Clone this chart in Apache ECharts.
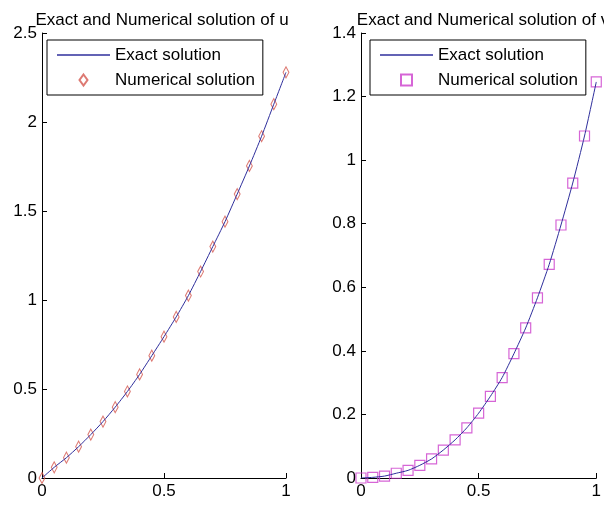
<!DOCTYPE html>
<html>
<head>
<meta charset="utf-8">
<script src="https://cdn.jsdelivr.net/npm/echarts@6/dist/echarts.min.js"></script>
<style>
  html, body { margin: 0; padding: 0; background: #fff; }
  #main { width: 604px; height: 507px; }
</style>
</head>
<body>
<div id="main"></div>
<script>
// x grid of the scheme
var xs = [0, 0.05, 0.1, 0.15, 0.2, 0.25, 0.3, 0.35, 0.4, 0.45, 0.5,
          0.55, 0.6, 0.65, 0.7, 0.75, 0.8, 0.85, 0.9, 0.95, 1]
// u (left)
var uExact = [0, 0.06, 0.114, 0.176, 0.244, 0.317, 0.398, 0.486, 0.582, 0.687, 0.794,
              0.905, 1.025, 1.16, 1.30, 1.44, 1.595, 1.753, 1.92, 2.10, 2.279]
var uNum = [0, 0.06, 0.114, 0.176, 0.244, 0.317, 0.398, 0.486, 0.582, 0.687, 0.794,
            0.905, 1.025, 1.16, 1.30, 1.44, 1.595, 1.753, 1.92, 2.10, 2.279]
// v (right)
var vExact = [0, 0.002, 0.006, 0.015, 0.024, 0.04, 0.06, 0.088, 0.12, 0.158, 0.204,
              0.257, 0.316, 0.391, 0.472, 0.567, 0.672, 0.796, 0.928, 1.076, 1.246]
var vNum = [0, 0.002, 0.006, 0.015, 0.024, 0.04, 0.06, 0.088, 0.12, 0.158, 0.204,
            0.257, 0.316, 0.391, 0.472, 0.567, 0.672, 0.796, 0.928, 1.076, 1.246]

var xTicks = [0, 0.5, 1]
var uTicks = [0, 0.5, 1, 1.5, 2, 2.5]
var vTicks = [0, 0.2, 0.4, 0.6, 0.8, 1, 1.2, 1.4]

var titles = ['Exact and Numerical solution of u', 'Exact and Numerical solution of v']
var legendNames = ['Exact solution', 'Numerical solution']

var FONT = '"Liberation Sans", Arial, sans-serif'
var FS = 17
var lineColor = '#2f2f9c'
var DIAMOND = 'path://M4 0 L8 5.5 L4 11 L0 5.5 Z'
var SQUARE = 'path://M0 0 H10 V10 H0 Z'
var DASH = 'path://M0 0 H53 V1.4 H0 Z'

function pairs (x, y) {
  return x.map(function (v, i) { return [v, y[i]] })
}

function xAxis (idx) {
  return {
    type: 'value',
    gridIndex: idx,
    min: xTicks[0],
    max: xTicks[xTicks.length - 1],
    interval: xTicks[1] - xTicks[0],
    axisLine: { lineStyle: { color: '#000', width: 1 } },
    axisTick: { inside: true, length: 5, lineStyle: { color: '#000' } },
    axisLabel: { color: '#000', fontSize: FS, fontFamily: FONT, margin: 5, showMinLabel: true, showMaxLabel: true },
    splitLine: { show: false }
  }
}

function yAxis (idx, ticks) {
  return {
    type: 'value',
    gridIndex: idx,
    min: ticks[0],
    max: ticks[ticks.length - 1],
    interval: ticks[1] - ticks[0],
    axisLine: { show: true, lineStyle: { color: '#000', width: 1 } },
    axisTick: { show: true, inside: true, length: 5, lineStyle: { color: '#000' } },
    axisLabel: { color: '#000', fontSize: FS, fontFamily: FONT, margin: 5, showMinLabel: true, showMaxLabel: true },
    splitLine: { show: false }
  }
}

function legend (left, prefix, markIcon) {
  return {
    left: left,
    top: 40,
    orient: 'vertical',
    data: [
      { name: prefix + legendNames[0], icon: DASH },
      { name: prefix + legendNames[1], icon: markIcon }
    ],
    formatter: function (n) { return n.substring(prefix.length) },
    backgroundColor: '#fff',
    borderColor: '#000',
    borderWidth: 1,
    borderRadius: 0,
    padding: [6, 8, 6, 10],
    itemWidth: 53,
    itemHeight: 11,
    itemGap: 7,
    symbolKeepAspect: true,
    selectedMode: false,
    textStyle: { color: '#000', fontSize: FS, fontFamily: FONT, lineHeight: 18 }
  }
}

var chart = echarts.init(document.getElementById('main'))
chart.setOption({
  animation: false,
  backgroundColor: '#fff',
  title: [
    { text: titles[0], left: 157, top: 7, textAlign: 'center',
      textStyle: { color: '#000', fontSize: FS, fontWeight: 'normal', fontFamily: FONT } },
    { text: titles[1], left: 478, top: 7, textAlign: 'center',
      textStyle: { color: '#000', fontSize: FS, fontWeight: 'normal', fontFamily: FONT } }
  ],
  grid: [
    { left: 42, top: 33, width: 244, height: 445 },
    { left: 361, top: 33, width: 244, height: 445 }
  ],
  xAxis: [xAxis(0), xAxis(1)],
  yAxis: [yAxis(0, uTicks), yAxis(1, vTicks)],
  legend: [legend(47, 'u: ', DIAMOND), legend(370, 'v: ', SQUARE)],
  series: [
    {
      name: 'u: ' + legendNames[0],
      type: 'line',
      xAxisIndex: 0, yAxisIndex: 0,
      data: pairs(xs, uExact),
      symbol: 'none',
      smooth: 0.2,
      lineStyle: { color: lineColor, width: 1 },
      itemStyle: { color: lineColor }
    },
    {
      name: 'u: ' + legendNames[1],
      type: 'scatter',
      xAxisIndex: 0, yAxisIndex: 0,
      data: pairs(xs, uNum),
      symbol: DIAMOND,
      symbolKeepAspect: true,
      symbolSize: [8, 11],
      itemStyle: { color: 'rgba(255,255,255,0)', borderColor: '#d4584f', borderWidth: 1.1 }
    },
    {
      name: 'v: ' + legendNames[0],
      type: 'line',
      xAxisIndex: 1, yAxisIndex: 1,
      data: pairs(xs, vExact),
      symbol: 'none',
      smooth: 0.2,
      lineStyle: { color: lineColor, width: 1 },
      itemStyle: { color: lineColor }
    },
    {
      name: 'v: ' + legendNames[1],
      type: 'scatter',
      xAxisIndex: 1, yAxisIndex: 1,
      data: pairs(xs, vNum),
      symbol: SQUARE,
      symbolSize: 10,
      itemStyle: { color: 'rgba(255,255,255,0)', borderColor: '#cc3fcc', borderWidth: 1.2 }
    }
  ]
})
</script>
</body>
</html>
